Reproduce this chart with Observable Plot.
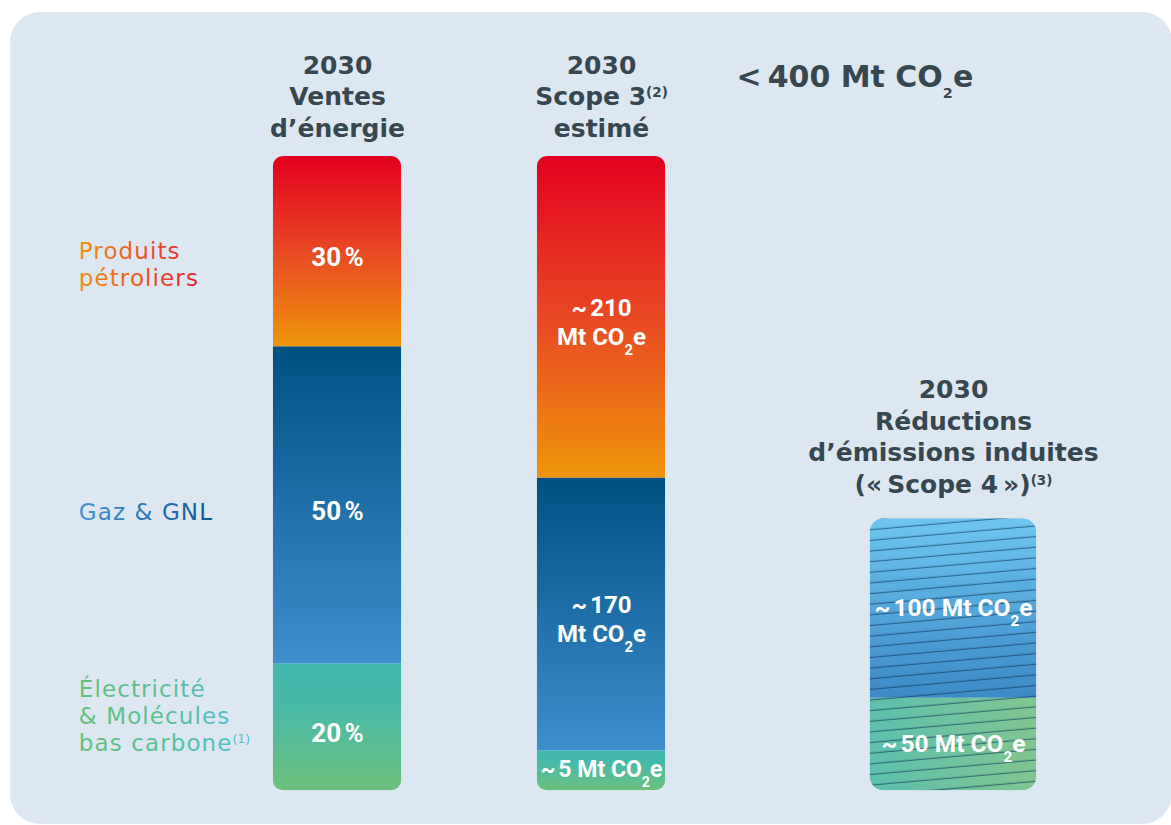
<!DOCTYPE html>
<html lang="fr">
<head>
<meta charset="utf-8">
<script src="https://cdn.jsdelivr.net/npm/d3@7"></script>
<script src="https://cdn.jsdelivr.net/npm/@observablehq/plot@0.6"></script>
<style>
  html, body { margin: 0; padding: 0; background: #ffffff; overflow: hidden; }
  #wrap { position: relative; width: 1171px; height: 825px; overflow: hidden; }
  #card { position: absolute; left: 10px; top: 12px; width: 1162px; height: 812px; border-radius: 30px; background: #dde7f1; }
  #chart { position: absolute; left: 0; top: 0; }
</style>
</head>
<body>
<div id="wrap"><div id="card"></div><div id="chart"></div></div>
<script>
// ---------------- DATA ----------------
const categories = ["Produits pétroliers", "Gaz & GNL", "Électricité & Molécules bas carbone"];
const categoryLabels = ["Produits\npétroliers", "Gaz & GNL", "Électricité\n& Molécules\nbas carbone⁽¹⁾"];
const colonnes = ["Ventes d’énergie", "Scope 3", "Scope 4"];
const entetes = ["2030\nVentes\nd’énergie", "2030\nScope 3⁽²⁾\nestimé", "2030\nRéductions\nd’émissions induites\n(«\u202FScope 4\u202F»)⁽³⁾"];
const totalScope3 = "<\u202F400 Mt CO₂e";

// Column 1: share of 2030 energy sales (%)
const ventesPct = [30, 50, 20];
// Column 2: estimated Scope 3 (Mt CO2e) and drawn share of the column height (%)
const scope3Mt = [210, 170, 5];
const scope3Hauteur = [50.7, 43.0, 6.3];
// Column 3: induced emission reductions ("Scope 4")
const scope4Categories = ["Gaz & GNL", "Électricité & Molécules bas carbone"];
const scope4Mt = [100, 50];
const scope4Hauteur = [28.3, 14.6];

// ---------------- TABLES (bottom-up stacking order) ----------------
const rowsVentes = categories.map((cat, i) => ({col: colonnes[0], cat, hauteur: ventesPct[i], label: `${ventesPct[i]}\u202F%`, catLabel: categoryLabels[i]})).reverse();
const rowsScope3 = categories.map((cat, i) => ({col: colonnes[1], cat, hauteur: scope3Hauteur[i], label: scope3Mt[i] >= 100 ? `~\u2009${scope3Mt[i]}\nMt CO₂e` : `~\u2009${scope3Mt[i]} Mt CO₂e`})).reverse();
const rowsScope4 = scope4Categories.map((cat, i) => ({col: colonnes[2], cat, hauteur: scope4Hauteur[i], label: `~\u2009${scope4Mt[i]} Mt CO₂e`})).reverse();
const rows12 = [...rowsVentes, ...rowsScope3];
const colTop = (rows) => d3.sum(rows, d => d.hauteur);
const headers12 = [{col: colonnes[0], text: entetes[0], top: colTop(rowsVentes)}, {col: colonnes[1], text: entetes[1], top: colTop(rowsScope3)}];
const header3 = [{col: colonnes[2], text: entetes[2], top: colTop(rowsScope4)}];
const totalRow = [{col: colonnes[1], text: totalScope3, top: colTop(rowsScope3)}];

// ---------------- STYLES ----------------
const barGrad = {[categories[0]]: "url(#g-orange)", [categories[1]]: "url(#g-bleu)", [categories[2]]: "url(#g-vert)"};
const bar4Grad = {[categories[1]]: "url(#g-bleu4)", [categories[2]]: "url(#g-vert4)"};
const labelStyle = [
  {fill: "url(#t-orange)", dy: 12},
  {fill: "url(#t-bleu)", dy: 6.2},
  {fill: "url(#t-vert)", dy: -11.6}
];
// layout slots for the x band scale (spacers give the columns their uneven spacing)
const slots = [colonnes[0], "·1", "·2", colonnes[1], "·3", "·4", "·5", colonnes[2]];
const titleColor = "#37474f";

const defsMark = () => {
  const g = document.createElementNS("http://www.w3.org/2000/svg", "g");
  g.innerHTML = `<defs>
    <linearGradient id="g-orange" x1="0" y1="0" x2="0" y2="1">
      <stop offset="0" stop-color="#e2001f"/><stop offset="0.5" stop-color="#e84824"/><stop offset="1" stop-color="#ef950b"/></linearGradient>
    <linearGradient id="g-bleu" x1="0" y1="0" x2="0" y2="1">
      <stop offset="0" stop-color="#005083"/><stop offset="1" stop-color="#3f8ecd"/></linearGradient>
    <linearGradient id="g-vert" x1="0" y1="0" x2="0" y2="1">
      <stop offset="0" stop-color="#41b9b0"/><stop offset="0.3" stop-color="#46b9aa"/><stop offset="1" stop-color="#6cc07b"/></linearGradient>
    <linearGradient id="g-bleu4" x1="0" y1="0" x2="0" y2="1">
      <stop offset="0" stop-color="#6ec6f0"/><stop offset="1" stop-color="#3c89c6"/></linearGradient>
    <linearGradient id="g-vert4" x1="0" y1="0" x2="1" y2="0">
      <stop offset="0" stop-color="#5cbfae"/><stop offset="1" stop-color="#82c58e"/></linearGradient>
    <linearGradient id="t-orange" x1="0" y1="0" x2="1" y2="0">
      <stop offset="0" stop-color="#f0900f"/><stop offset="1" stop-color="#e3212f"/></linearGradient>
    <linearGradient id="t-bleu" x1="0" y1="0" x2="1" y2="0">
      <stop offset="0" stop-color="#4395d4"/><stop offset="1" stop-color="#115891"/></linearGradient>
    <linearGradient id="t-vert" x1="0" y1="0" x2="1" y2="0">
      <stop offset="0" stop-color="#65bf7c"/><stop offset="0.5" stop-color="#58c097"/><stop offset="1" stop-color="#4ebfe0"/></linearGradient>
    <pattern id="hatch" patternUnits="userSpaceOnUse" width="400" height="10.6" patternTransform="rotate(-5)">
      <line x1="0" y1="10" x2="400" y2="10" stroke="#0c3658" stroke-opacity="0.6" stroke-width="1"/></pattern>
  </defs>`;
  return g;
};

const svg = Plot.plot({
  width: 1171,
  height: 825,
  marginTop: 0, marginBottom: 0, marginLeft: 0, marginRight: 0,
  x: {type: "band", domain: slots, range: [292.45, 997.25], padding: 0, axis: null},
  y: {domain: [0, 100], range: [790.3, 156], axis: null},
  color: {type: "identity"},
  marks: [
    defsMark,
    Plot.barY(rows12, Plot.stackY({x: "col", y: "hauteur", fill: d => barGrad[d.cat], insetLeft: -20.2, insetRight: -20.2})),
    Plot.barY(rowsScope4, Plot.stackY({x: "col", y: "hauteur", fill: d => bar4Grad[d.cat], insetLeft: -39.3, insetRight: -39.3})),
    Plot.barY(rowsScope4, Plot.stackY({x: "col", y: "hauteur", fill: () => "url(#hatch)", insetLeft: -39.3, insetRight: -39.3})),
    // values inside bars
    Plot.text(rowsVentes, Plot.stackY({x: "col", y: "hauteur", text: "label", fill: "white", fontFamily: "Roboto", fontWeight: 700, fontSize: 26, dy: 6})),
    Plot.text(rowsScope3, Plot.filter(d => d.label.includes("\n"), Plot.stackY({x: "col", y: "hauteur", text: "label", fill: "white", fontFamily: "Roboto", fontWeight: 700, fontSize: 24, lineHeight: 1.2, dy: 4}))),
    Plot.text(rowsScope3, Plot.filter(d => !d.label.includes("\n"), Plot.stackY({x: "col", y: "hauteur", text: "label", fill: "white", fontFamily: "Roboto", fontWeight: 700, fontSize: 23, dy: -1}))),
    Plot.text(rowsScope4, Plot.stackY({x: "col", y: "hauteur", text: "label", fill: "white", fontFamily: "Roboto", fontWeight: 700, fontSize: 24.5, dy: 0})),
    // category labels on the left
    ...categories.map((c, i) => Plot.text(rowsVentes, Plot.filter(d => d.cat === c, Plot.stackY({
      x: "col", y: "hauteur", text: "catLabel", textAnchor: "start", dx: -258.7,
      fontFamily: "DejaVu Sans", fontSize: 23, lineHeight: 1.17, ...labelStyle[i]
    })))),
    // column headers
    Plot.text(headers12, {x: "col", y: "top", text: "text", lineAnchor: "bottom", dy: -19.3, fill: titleColor, fontFamily: "DejaVu Sans", fontWeight: 700, fontSize: 25, lineHeight: 1.27}),
    Plot.text(header3, {x: "col", y: "top", text: "text", lineAnchor: "bottom", dy: -25.5, fill: titleColor, fontFamily: "DejaVu Sans", fontWeight: 700, fontSize: 25, lineHeight: 1.27}),
    Plot.text(totalRow, {x: "col", y: "top", text: "text", textAnchor: "start", lineAnchor: "bottom", dx: 135, dy: -69.3, fill: titleColor, fontFamily: "DejaVu Sans", fontWeight: 700, fontSize: 30})
  ]
});
svg.style.background = "transparent";
svg.style.maxWidth = "none";
document.getElementById("chart").append(svg);
// slightly wider tracking for the category labels (gradient-filled texts)
svg.querySelectorAll('[fill^="url(#t-"]').forEach(el => {
  el.style.letterSpacing = "1.1px";
  el.querySelectorAll("text").forEach(t => t.style.letterSpacing = "1.1px");
});

// ---- rounded column ends: clip each column's stacked rects to one rounded rectangle ----
(function roundColumns() {
  const NS = "http://www.w3.org/2000/svg";
  const defs = svg.querySelector("defs");
  const rects = [...svg.querySelectorAll("rect")].filter(r => /url\(#(g-|hatch)/.test(r.getAttribute("fill") || ""));
  const groups = d3.group(rects, r => Math.round(+r.getAttribute("x")));
  let k = 0;
  for (const [, rs] of groups) {
    const x = +rs[0].getAttribute("x"), w = +rs[0].getAttribute("width");
    const y0 = d3.min(rs, r => +r.getAttribute("y"));
    const y1 = d3.max(rs, r => +r.getAttribute("y") + +r.getAttribute("height"));
    const cp = document.createElementNS(NS, "clipPath");
    cp.setAttribute("id", `col-clip-${k}`);
    const rr = document.createElementNS(NS, "rect");
    const r = w > 150 ? 14 : 10;
    rr.setAttribute("x", x); rr.setAttribute("y", y0);
    rr.setAttribute("width", w); rr.setAttribute("height", y1 - y0);
    rr.setAttribute("rx", r); rr.setAttribute("ry", r);
    cp.appendChild(rr); defs.appendChild(cp);
    rs.forEach(el => el.setAttribute("clip-path", `url(#col-clip-${k})`));
    k++;
  }
})();

// ---- subscripts (₂) and superscripts (⁽¹⁾) as real tspans ----
(function scripts() {
  const NS = "http://www.w3.org/2000/svg";
  const tw = document.createTreeWalker(svg, NodeFilter.SHOW_TEXT);
  const list = [];
  while (tw.nextNode()) list.push(tw.currentNode);
  const supMap = {"⁽": "(", "⁾": ")", "¹": "1", "²": "2", "³": "3"};
  for (const node of list) {
    const s = node.nodeValue;
    if (!/[₂⁽⁾¹²³]/.test(s)) continue;
    const parent = node.parentNode;
    const cs = getComputedStyle(parent);
    const fs = parseFloat(cs.fontSize);
    const roboto = /Roboto/i.test(cs.fontFamily);
    const frag = document.createDocumentFragment();
    const re = /(₂|[⁽⁾¹²³]+)/g;
    let last = 0, m;
    while ((m = re.exec(s))) {
      if (m.index > last) frag.append(document.createTextNode(s.slice(last, m.index)));
      const t = document.createElementNS(NS, "tspan");
      if (m[0] === "₂") {
        t.textContent = "2";
        t.setAttribute("font-size", fs * (roboto ? 0.62 : 0.48));
        t.setAttribute("baseline-shift", -fs * (roboto ? 0.42 : 0.36));
      } else {
        t.textContent = [...m[0]].map(c => supMap[c]).join("");
        t.setAttribute("font-size", fs * 0.54);
        t.setAttribute("baseline-shift", fs * 0.33);
        t.style.letterSpacing = "0px";
      }
      frag.append(t);
      last = m.index + m[0].length;
    }
    if (last < s.length) frag.append(document.createTextNode(s.slice(last)));
    parent.replaceChild(frag, node);
  }
})();
</script>
</body>
</html>
